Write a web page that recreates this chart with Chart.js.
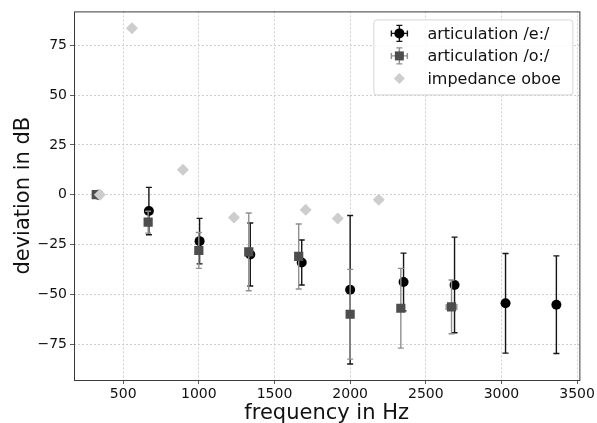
<!DOCTYPE html>
<html>
<head>
<meta charset="utf-8">
<script src="https://cdn.jsdelivr.net/npm/chart.js@4"></script>
<style>
  html, body { margin: 0; padding: 0; background: #fff; }
  #wrap { position: relative; width: 597px; height: 423px; }
</style>
</head>
<body>
<div id="wrap"><canvas id="chart" width="597" height="423"></canvas></div>
<script>
// ============================================================
// Data
// ============================================================
const eFreq = [336, 670, 1005, 1340, 1680, 2000, 2353, 2690, 3027, 3363];
const eDev = [0, -8.2, -23.3, -30, -34, -47.7, -43.8, -45.3, -54.5, -55.2];
const eErr = [0, 11.9, 11.4, 15.8, 11.3, 37.3, 14.5, 24, 25, 24.5];
const eFreqErr = [0, 0, 0, 0, 0, 0, 0, 0, 0, 0];

const oFreq = [322, 665, 1000, 1330, 1660, 2000, 2335, 2670];
const oDev = [0, -13.8, -28, -28.7, -31, -60, -57, -56.3];
const oErr = [0, 5.5, 9, 19.5, 16.3, 22.5, 20, 13.5];
const oFreqErr = [12, 0, 0, 0, 0, 0, 0, 35];

const impFreq = [346, 558, 895, 1232, 1706, 1918, 2189];
const impDev = [0, 83.5, 12.5, -11.5, -7.5, -12, -2.5];

const xTicks = [500, 1000, 1500, 2000, 2500, 3000, 3500];
const yTicks = [-75, -50, -25, 0, 25, 50, 75];

const FONT = "'DejaVu Sans', sans-serif";

function toPoints(xs, ys) {
  return xs.map((x, i) => ({ x: x, y: ys[i] }));
}

// ============================================================
// Plugins
// ============================================================
// error bars, drawn just before each dataset's markers
const errorBars = {
  id: 'errorBars',
  beforeDatasetDraw(chart, args) {
    const ds = chart.data.datasets[args.index];
    if (!ds.yErr) return;
    const { ctx, scales: { x, y } } = chart;
    const cap = 3;
    ctx.save();
    ctx.strokeStyle = ds.errColor;
    ctx.lineWidth = 1.4;
    ds.data.forEach((p, i) => {
      const px = x.getPixelForValue(p.x);
      const py = y.getPixelForValue(p.y);
      const ye = ds.yErr[i] || 0;
      const xe = ds.xErr ? ds.xErr[i] || 0 : 0;
      ctx.beginPath();
      if (ye > 0) {
        const top = y.getPixelForValue(p.y + ye);
        const bot = y.getPixelForValue(p.y - ye);
        ctx.moveTo(px, top); ctx.lineTo(px, bot);
        ctx.moveTo(px - cap, top); ctx.lineTo(px + cap, top);
        ctx.moveTo(px - cap, bot); ctx.lineTo(px + cap, bot);
      }
      if (xe > 0) {
        const l = x.getPixelForValue(p.x - xe);
        const r = x.getPixelForValue(p.x + xe);
        ctx.moveTo(l, py); ctx.lineTo(r, py);
        ctx.moveTo(l, py - cap); ctx.lineTo(l, py + cap);
        ctx.moveTo(r, py - cap); ctx.lineTo(r, py + cap);
      }
      ctx.stroke();
    });
    ctx.restore();
  }
};

// full box around the plot area
const frame = {
  id: 'frame',
  afterDraw(chart) {
    const { ctx, chartArea: a } = chart;
    ctx.save();
    ctx.strokeStyle = '#3a3a3a';
    ctx.lineWidth = 1;
    ctx.strokeRect(a.left + 0.5, a.top + 0.5, a.right - a.left, a.bottom - a.top);
    ctx.restore();
  }
};

// matplotlib-like legend in the upper right corner
const boxLegend = {
  id: 'boxLegend',
  afterDraw(chart) {
    const { ctx, chartArea: a } = chart;
    const w = 199, h = 75;
    const left = a.right - 7 - w, top = a.top + 8;
    ctx.save();
    ctx.fillStyle = 'rgba(255,255,255,0.85)';
    ctx.strokeStyle = '#d6d6d6';
    ctx.lineWidth = 1;
    ctx.beginPath();
    ctx.roundRect(left + 0.5, top + 0.5, w, h, 3);
    ctx.fill();
    ctx.stroke();

    ctx.font = '16px ' + FONT;
    ctx.textBaseline = 'middle';
    ctx.textAlign = 'left';
    const order = [2, 1, 0];
    order.forEach((di, row) => {
      const ds = chart.data.datasets[di];
      const cy = top + 14 + row * 22.5;
      const cx = left + 26;
      if (ds.yErr) {
        ctx.strokeStyle = ds.errColor;
        ctx.lineWidth = 1.4;
        ctx.beginPath();
        ctx.moveTo(cx, cy - 8); ctx.lineTo(cx, cy + 8);
        ctx.moveTo(cx - 3, cy - 8); ctx.lineTo(cx + 3, cy - 8);
        ctx.moveTo(cx - 3, cy + 8); ctx.lineTo(cx + 3, cy + 8);
        ctx.moveTo(cx - 8, cy); ctx.lineTo(cx + 8, cy);
        ctx.moveTo(cx - 8, cy - 3); ctx.lineTo(cx - 8, cy + 3);
        ctx.moveTo(cx + 8, cy - 3); ctx.lineTo(cx + 8, cy + 3);
        ctx.stroke();
      }
      ctx.fillStyle = ds.backgroundColor;
      ctx.beginPath();
      if (ds.pointStyle === 'circle') {
        ctx.arc(cx, cy, 5, 0, Math.PI * 2);
      } else if (ds.pointStyle === 'rect') {
        ctx.rect(cx - 4.5, cy - 4.5, 9, 9);
      } else {
        ctx.moveTo(cx, cy - 5.5); ctx.lineTo(cx + 5.5, cy);
        ctx.lineTo(cx, cy + 5.5); ctx.lineTo(cx - 5.5, cy);
        ctx.closePath();
      }
      ctx.fill();
      ctx.fillStyle = '#111';
      ctx.fillText(ds.label, left + 54, cy + 1);
    });
    ctx.restore();
  }
};

// ============================================================
// Chart
// ============================================================
const minus = v => String(v).replace('-', '\u2212');

new Chart(document.getElementById('chart'), {
  type: 'scatter',
  data: {
    datasets: [
      {
        label: 'impedance oboe',
        data: toPoints(impFreq, impDev),
        pointStyle: 'rectRot',
        pointRadius: 6,
        backgroundColor: '#cdcdcd',
        borderColor: '#cdcdcd',
        borderWidth: 0,
        order: 0,
      },
      {
        label: 'articulation /o:/',
        data: toPoints(oFreq, oDev),
        yErr: oErr,
        xErr: oFreqErr,
        errColor: '#8f8f8f',
        pointStyle: 'rect',
        pointRadius: 6.5,
        backgroundColor: '#4d4d4d',
        borderColor: '#4d4d4d',
        borderWidth: 0,
        order: 1,
      },
      {
        label: 'articulation /e:/',
        data: toPoints(eFreq, eDev),
        yErr: eErr,
        xErr: eFreqErr,
        errColor: '#151515',
        pointStyle: 'circle',
        pointRadius: 5,
        backgroundColor: '#000000',
        borderColor: '#000000',
        borderWidth: 0,
        order: 2,
      },
    ],
  },
  options: {
    responsive: false,
    animation: false,
    layout: { padding: { top: 10, right: 17, left: 0, bottom: 0 } },
    plugins: {
      legend: { display: false },
      tooltip: { enabled: false },
    },
    scales: {
      x: {
        type: 'linear',
        min: 175,
        max: 3515,
        afterBuildTicks: s => { s.ticks = xTicks.map(v => ({ value: v })); },
        afterFit: s => { s.height = 43; },
        ticks: {
          color: '#111',
          font: { family: FONT, size: 14 },
          padding: 2,
          maxRotation: 0,
          callback: v => String(v),
        },
        grid: {
          color: '#c4c4c4',
          lineWidth: 0.8,
          tickLength: 4,
          tickColor: '#333',
          tickBorderDash: [],
        },
        border: { display: false, dash: [2, 2] },
        title: {
          display: true,
          text: 'frequency in Hz',
          color: '#111',
          font: { family: FONT, size: 21 },
          padding: { top: 0, bottom: -3 },
        },
      },
      y: {
        type: 'linear',
        min: -93,
        max: 92,
        afterBuildTicks: s => { s.ticks = yTicks.map(v => ({ value: v })); },
        afterFit: s => { s.width = 74; },
        ticks: {
          color: '#111',
          font: { family: FONT, size: 14 },
          padding: 3,
          callback: v => minus(v),
        },
        grid: {
          color: '#c4c4c4',
          lineWidth: 0.8,
          tickLength: 4,
          tickColor: '#333',
          tickBorderDash: [],
        },
        border: { display: false, dash: [2, 2] },
        title: {
          display: true,
          text: 'deviation in dB',
          color: '#111',
          font: { family: FONT, size: 21 },
          padding: { top: 11, bottom: 0 },
        },
      },
    },
  },
  plugins: [errorBars, frame, boxLegend],
});
</script>
</body>
</html>
